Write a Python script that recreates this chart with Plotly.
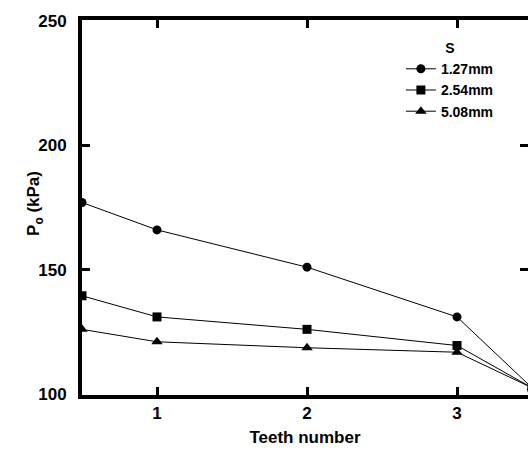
import plotly.graph_objects as go

teeth = [0.5, 1, 2, 3, 3.5]
s_127 = [177, 166, 151, 131, 102.5]
s_254 = [139.5, 131, 126, 119.5, 102.5]
s_508 = [126, 121, 118.6, 116.8, 102.5]
series_names = ["1.27mm", "2.54mm", "5.08mm"]
symbols = ["circle", "square", "triangle-up"]
x_ticks = [1, 2, 3]
y_ticks = [100, 150, 200, 250]

FONT = "Liberation Sans, Arial, sans-serif"

fig = go.Figure()
for name, vals, sym in zip(series_names, [s_127, s_254, s_508], symbols):
    fig.add_trace(go.Scatter(
        x=teeth, y=vals, name=name, mode="lines+markers",
        line=dict(color="black", width=1),
        marker=dict(symbol=sym, size=9 if sym != "triangle-up" else 10, color="black"),
    ))

fig.update_layout(
    width=528, height=452,
    margin=dict(l=82, r=0, t=20, b=57, autoexpand=False),
    paper_bgcolor="white", plot_bgcolor="white",
    font=dict(family=FONT, size=16, color="black"),
    showlegend=True,
    legend=dict(
        x=0.715, y=0.96, xanchor="left", yanchor="top",
        bgcolor="rgba(0,0,0,0)", borderwidth=0,
        font=dict(family=FONT, size=14, color="black", weight="bold"),
        title=dict(text="<b>S</b>", side="top center",
                   font=dict(family=FONT, size=14, color="black")),
        tracegroupgap=0,
    ),
    xaxis=dict(
        range=[0.5, 0.5 + 446 / 150],
        tickvals=x_ticks, ticktext=[str(v) for v in x_ticks],
        ticks="inside", ticklen=8, tickwidth=3, tickcolor="black",
        showline=True, linewidth=4, linecolor="black", mirror="ticks",
        showgrid=False, zeroline=False,
        tickfont=dict(family=FONT, size=17, color="black", weight="bold"),
        title=dict(text="<b>Teeth number</b>", standoff=10,
                   font=dict(family=FONT, size=17, color="black")),
    ),
    yaxis=dict(
        range=[100 - 1 / 2.513, 250 + 1 / 2.513],
        tickvals=y_ticks, ticktext=[str(v) for v in y_ticks],
        ticks="inside", ticklen=8, tickwidth=3, tickcolor="black",
        ticklabelstandoff=8,
        showline=True, linewidth=4, linecolor="black", mirror="ticks",
        showgrid=False, zeroline=False,
        tickfont=dict(family=FONT, size=17, color="black", weight="bold"),
    ),
    annotations=[dict(
        text="<b>P<sub>o</sub> (kPa)</b>", textangle=-90,
        xref="paper", yref="paper", x=-0.105, y=0.51,
        xanchor="center", yanchor="middle", showarrow=False,
        font=dict(family=FONT, size=17, color="black"),
    )],
)

fig.write_html(
    "out.html",
    config={"displayModeBar": False},
    post_script="document.body.style.margin='0';document.body.style.overflow='hidden';",
)
